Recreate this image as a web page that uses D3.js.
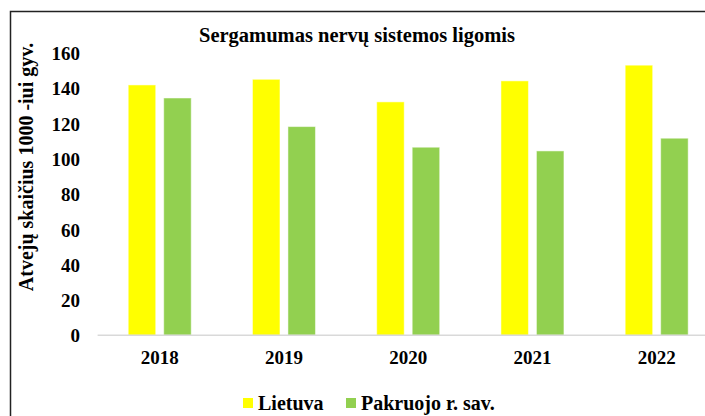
<!DOCTYPE html>
<html>
<head>
<meta charset="utf-8">
<script src="https://cdn.jsdelivr.net/npm/d3@7"></script>
<style>
  body { margin: 0; background: #fff; }
  text { font-weight: bold; fill: #000; }
</style>
</head>
<body>
<script>
var years = ["2018", "2019", "2020", "2021", "2022"];
var seriesNames = ["Lietuva", "Pakruojo r. sav."];
var lietuva = [141.9, 145.1, 132.3, 144.2, 153.1];
var pakruojo = [134.5, 118.3, 106.6, 104.5, 111.7];
var yTicks = [0, 20, 40, 60, 80, 100, 120, 140, 160];
var colors = ["#FFFF00", "#92D050"];

draw();

function draw() {
    var width = 705, height = 416;
    var serif = "Liberation Serif";

    var svg = d3.select("body").append("svg")
        .attr("width", width)
        .attr("height", height)
        .attr("font-family", serif);

    // frame runs off the right and bottom edge, as in the picture
    svg.append("rect")
        .attr("x", 10.5)
        .attr("y", 11.5)
        .attr("width", 760)
        .attr("height", 460)
        .attr("fill", "none")
        .attr("stroke", "#222")
        .attr("stroke-width", 1.5);

    var x = d3.scaleBand()
        .domain(years)
        .range([97.6, 718.8]);

    var inner = d3.scaleBand()
        .domain(seriesNames)
        .range([(x.bandwidth() - 63) / 2, (x.bandwidth() + 63) / 2])
        .paddingInner(0.225);

    var y = d3.scaleLinear()
        .domain([0, 160])
        .range([335.3, 53]);

    var rows = [];
    years.forEach(function (yr, i) {
        rows.push({year: yr, name: seriesNames[0], value: lietuva[i], color: colors[0]});
        rows.push({year: yr, name: seriesNames[1], value: pakruojo[i], color: colors[1]});
    });

    svg.selectAll(".bar")
        .data(rows)
        .enter()
        .append("rect")
        .attr("class", "bar")
        .attr("x", function (d) { return x(d.year) + inner(d.name); })
        .attr("y", function (d) { return y(d.value); })
        .attr("width", inner.bandwidth())
        .attr("height", function (d) { return y(0) - y(d.value); })
        .attr("fill", function (d) { return d.color; })
        .attr("stroke", "rgba(255,255,255,0.5)")
        .attr("stroke-width", 1);

    // baseline
    svg.append("line")
        .attr("x1", x.range()[0])
        .attr("x2", x.range()[1])
        .attr("y1", y(0))
        .attr("y2", y(0))
        .attr("stroke", "#D9D9D9")
        .attr("stroke-width", 1.5);

    var yAxis = d3.axisLeft(y)
        .tickValues(yTicks)
        .tickSize(0)
        .tickPadding(0);
    var gy = svg.append("g")
        .attr("transform", "translate(80,0)")
        .call(yAxis)
        .attr("font-family", serif)
        .attr("font-size", 19);
    gy.select(".domain").remove();
    gy.selectAll("text")
        .attr("dy", "0.35em");

    var xAxis = d3.axisBottom(x)
        .tickSize(0)
        .tickPadding(0);
    var gx = svg.append("g")
        .attr("transform", "translate(0," + 357 + ")")
        .call(xAxis)
        .attr("font-family", serif)
        .attr("font-size", 19);
    gx.select(".domain").remove();
    gx.selectAll("text")
        .attr("y", 0)
        .attr("dy", "0.35em");

    // title
    svg.append("text")
        .attr("x", 357)
        .attr("y", 35)
        .attr("dy", "0.35em")
        .attr("text-anchor", "middle")
        .style("font-size", "20.5px")
        .text("Sergamumas nervų sistemos ligomis");

    // y axis title
    svg.append("text")
        .attr("transform", "translate(26,167) rotate(-90)")
        .attr("dy", "0.35em")
        .attr("text-anchor", "middle")
        .style("font-size", "20px")
        .text("Atvejų skaičius 1000 -iui gyv.");

    // legend
    var legendX = [243, 346];
    var legend = svg.selectAll(".legend")
        .data(seriesNames)
        .enter()
        .append("g")
        .attr("class", "legend")
        .attr("transform", function (d, i) { return "translate(" + legendX[i] + ",403)"; });
    legend.append("rect")
        .attr("x", 0)
        .attr("y", -5)
        .attr("width", 10)
        .attr("height", 10)
        .attr("fill", function (d, i) { return colors[i]; });
    legend.append("text")
        .attr("x", 15)
        .attr("dy", "0.35em")
        .style("font-size", "20px")
        .text(function (d) { return d; });
}
</script>
</body>
</html>
